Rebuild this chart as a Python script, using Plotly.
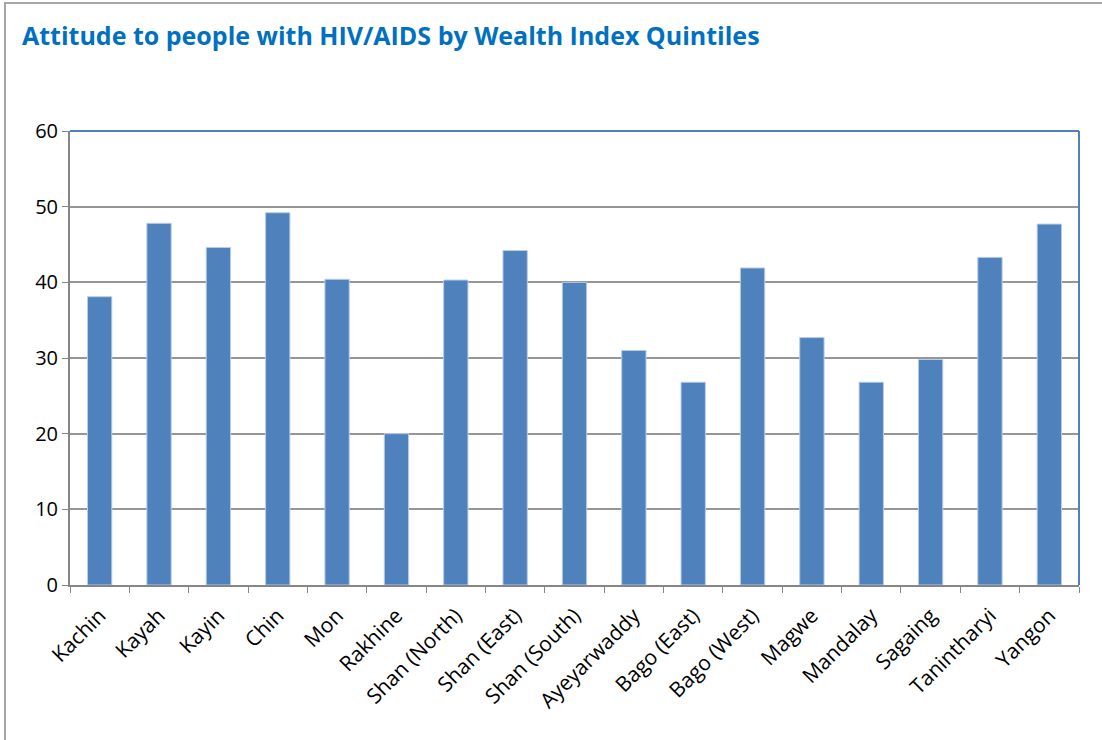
import plotly.graph_objects as go

# regions and values
regions = ['Kachin', 'Kayah', 'Kayin', 'Chin', 'Mon', 'Rakhine', 'Shan (North)',
           'Shan (East)', 'Shan (South)', 'Ayeyarwaddy', 'Bago (East)', 'Bago (West)',
           'Magwe', 'Mandalay', 'Sagaing', 'Tanintharyi', 'Yangon']
values = [38.1, 47.8, 44.6, 49.2, 40.4, 20.0, 40.3, 44.2, 40.0,
          31.0, 26.8, 41.9, 32.7, 26.8, 29.8, 43.3, 47.7]
y_ticks = [0, 10, 20, 30, 40, 50, 60]

W, H = 1102, 740
ml, mr, mt, mb = 70, 23, 131, 155
pw, ph = W - ml - mr, H - mt - mb

fig = go.Figure()
fig.add_trace(go.Bar(
    x=regions, y=values,
    marker=dict(color='#4F81BD', line=dict(color='#B9CDE5', width=1)),
    width=0.41,
))

fig.update_layout(
    width=W, height=H,
    margin=dict(l=ml, r=mr, t=mt, b=mb),
    paper_bgcolor='white', plot_bgcolor='white',
    font=dict(family='Open Sans, sans-serif', color='black'),
    title=dict(text='<b>Attitude to people with HIV/AIDS by Wealth Index Quintiles</b>',
               x=22 / W, xanchor='left', y=1 - 36 / H, yanchor='middle',
               font=dict(size=25, color='#0070C0', family='Open Sans, sans-serif')),
    showlegend=False,
    xaxis=dict(tickangle=-45, tickfont=dict(size=21), showline=True, linecolor='#868686',
               linewidth=2, ticks='outside', tickson='boundaries', ticklen=6,
               tickcolor='#868686', showgrid=False, ticklabelstandoff=8),
    yaxis=dict(range=[0, 60], tickvals=y_ticks, tickfont=dict(size=20), showline=True,
               linecolor='#868686', linewidth=2, ticks='outside', ticklen=6,
               tickcolor='#868686', showgrid=True, gridcolor='#969696', gridwidth=1.5,
               zeroline=False),
)

# blue top and right borders of the plot area
fig.add_shape(type='line', xref='paper', yref='paper', x0=0, x1=1, y0=1, y1=1,
              line=dict(color='#4F81BD', width=2))
fig.add_shape(type='line', xref='paper', yref='paper', x0=1, x1=1, y0=0, y1=1,
              line=dict(color='#4F81BD', width=2))
# outer chart frame
fig.add_shape(type='rect', xref='paper', yref='paper',
              x0=(5 - ml) / pw, x1=(W + 5 - ml) / pw,
              y0=(mb - H - 5) / ph, y1=(H - mb - 3) / ph,
              line=dict(color='#A6A6A6', width=2), layer='below')

# drop the default page margin so the figure sits at the window corner
fig.write_html("out.html", config={'displayModeBar': False},
               post_script="document.body.style.margin='0';")
